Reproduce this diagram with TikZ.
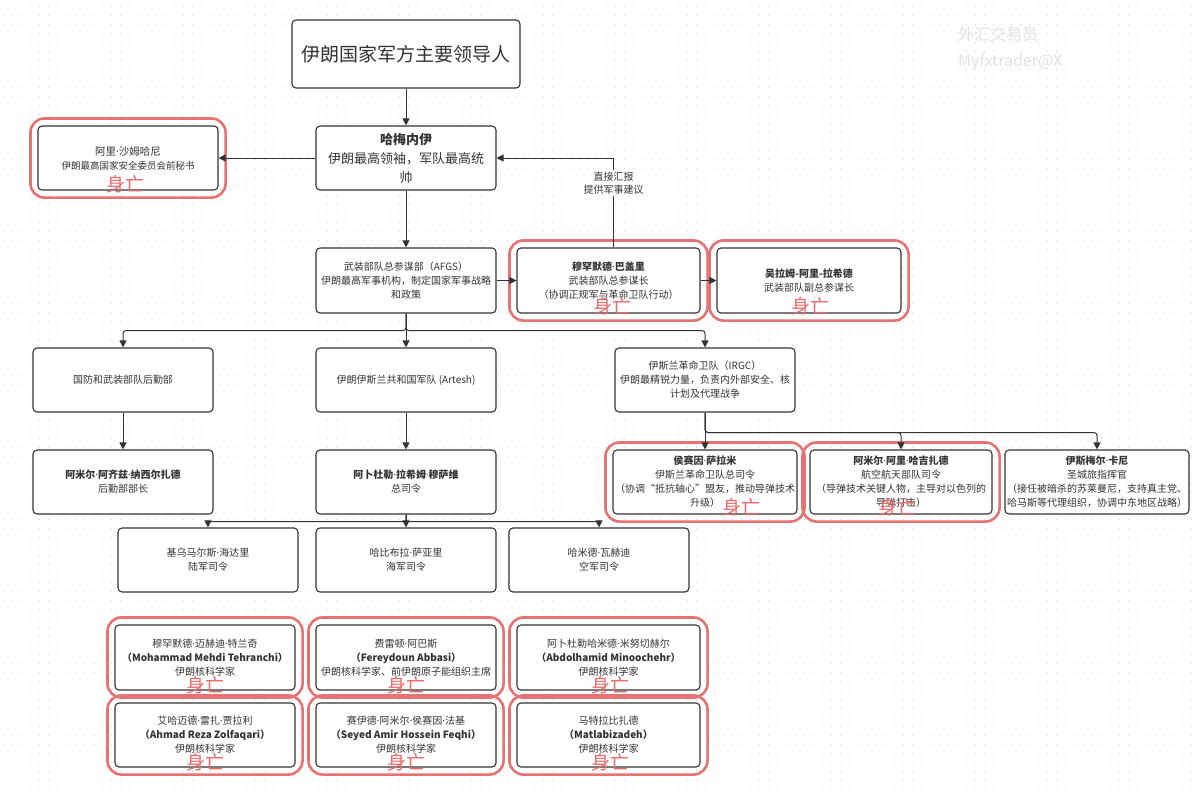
\documentclass[tikz,border=0pt]{standalone}
\usepackage{fontspec}
\setmainfont{Noto Sans CJK SC}
\newfontfamily\latinf{Noto Sans}
\newcommand\mdot{{\latinf ·}}
\usetikzlibrary{arrows.meta,fit}
\definecolor{ln}{HTML}{333333}
\definecolor{redline}{HTML}{E57373}
\definecolor{redtxt}{HTML}{E86A6A}
\definecolor{wm}{HTML}{E2E2E2}
\definecolor{dotc}{HTML}{D4D4D4}
\begin{document}
\begin{tikzpicture}[x=1pt,y=-1pt,
  box/.style={draw=ln, line width=1.1pt, rounded corners=4pt, fill=white, align=center, text=ln, inner sep=2pt, minimum width=180pt, minimum height=64pt, font=\fontsize{10}{14}\selectfont},
  arr/.style={draw=ln, line width=1pt, -{Triangle[length=7pt,width=7pt]}},
  dead/.style={draw=redline, line width=2.6pt, rounded corners=14pt, inner sep=7pt},
  rip/.style={text=redtxt, font=\fontsize{19}{19}\selectfont, inner sep=0pt},
  lbl/.style={fill=white, text=ln, align=center, inner sep=1.5pt, font=\fontsize{10}{13}\selectfont},
  wmk/.style={text=wm, anchor=west, inner sep=0pt, font=\fontsize{16}{16}\selectfont}]
\useasboundingbox (0,0) rectangle (1200,795);
\fill[white] (0,0) rectangle (1200,795);
\foreach \yy in {6,15,...,795}
  \draw[dotc, line width=1pt, dash pattern=on 1pt off 8pt] (3,\yy) -- (1200,\yy);

\node[wmk] (wm1) at (958,34) {外汇交易员};
\node[wmk] (wm2) at (958,62) {Myfxtrader@X};

% nodes
\node[box, minimum width=228pt, minimum height=68pt, font=\fontsize{19}{22}\selectfont] (title) at (406,54) {伊朗国家军方主要领导人};
\node[box, font=\fontsize{13}{19}\selectfont] (kha) at (406,158) {\textbf{哈梅内伊}\\伊朗最高领袖，军队最高统\\帅};
\node[box, font=\fontsize{9.5}{14}\selectfont] (sham) at (128,158) {\fontsize{10.5}{14}\selectfont 阿里\mdot 沙姆哈尼\\伊朗最高国家安全委员会前秘书};
\node[box, minimum height=65pt] (afgs) at (406,280.5) {武装部队总参谋部（AFGS）\\伊朗最高军事机构，制定国家军事战略\\和政策};
\node[box, minimum width=183pt, minimum height=65pt] (bag) at (608.5,280.5) {\textbf{穆罕默德\mdot 巴盖里}\\武装部队总参谋长\\（协调正规军与革命卫队行动）};
\node[box, minimum width=184pt, minimum height=65pt] (ras) at (809,280.5) {\textbf{吴拉姆-阿里-拉希德}\\武装部队副总参谋长};

\node[box] (log) at (123,380) {国防和武装部队后勤部};
\node[box] (art) at (406,380) {伊朗伊斯兰共和国军队 (Artesh)};
\node[box] (irgc) at (705,380) {伊斯兰革命卫队（IRGC）\\伊朗最精锐力量，负责内外部安全、核\\计划及代理战争};

\node[box] (nas) at (123,482) {\textbf{阿米尔\mdot 阿齐兹\mdot 纳西尔扎德}\\后勤部部长};
\node[box] (mou) at (406,482) {\textbf{阿卜杜勒\mdot 拉希姆\mdot 穆萨维}\\总司令};
\node[box, minimum width=182pt] (sal) at (705,482) {\textbf{侯赛因\mdot 萨拉米}\\伊斯兰革命卫队总司令\\（协调“抵抗轴心”盟友，推动导弹技术\\升级）};
\node[box, minimum width=182pt] (haj) at (901,482) {\textbf{阿米尔\mdot 阿里\mdot 哈吉扎德}\\航空航天部队司令\\（导弹技术关键人物，主导对以色列的\\导弹打击）};
\node[box] (qaa) at (1097,482) {\textbf{伊斯梅尔\mdot 卡尼}\\圣城旅指挥官\\（接任被暗杀的苏莱曼尼，支持真主党、\\哈马斯等代理组织，协调中东地区战略）};

\node[box] (hey) at (208,560) {基乌马尔斯\mdot 海达里\\陆军司令};
\node[box] (say) at (406,560) {哈比布拉\mdot 萨亚里\\海军司令};
\node[box] (vah) at (599,560) {哈米德\mdot 瓦赫迪\\空军司令};

\node[box, minimum height=65pt] (s1) at (205,657.5) {穆罕默德\mdot 迈赫迪\mdot 特兰奇\\\textbf{（Mohammad Mehdi Tehranchi）}\\伊朗核科学家};
\node[box, minimum height=65pt] (s2) at (406,657.5) {费雷顿\mdot 阿巴斯\\\textbf{（Fereydoun Abbasi）}\\伊朗核科学家、前伊朗原子能组织主席};
\node[box, minimum width=183pt, minimum height=65pt] (s3) at (608.5,657.5) {阿卜杜勒哈米德\mdot 米努切赫尔\\\textbf{（Abdolhamid Minoochehr）}\\伊朗核科学家};
\node[box] (s4) at (205,735) {艾哈迈德\mdot 雷扎\mdot 贾拉利\\\textbf{（Ahmad Reza Zolfaqari）}\\伊朗核科学家};
\node[box] (s5) at (406,735) {赛伊德\mdot 阿米尔\mdot 侯赛因\mdot 法基\\\textbf{（Seyed Amir Hossein Feqhi）}\\伊朗核科学家};
\node[box, minimum width=183pt] (s6) at (608.5,735) {马特拉比扎德\\\textbf{（Matlabizadeh）}\\伊朗核科学家};

% red outlines
\foreach \n in {sham,bag,ras,sal,haj,s1,s2,s3,s4,s5,s6}
  \node[dead, fit=(\n)] (\n R) {};

% deaths
\node[rip] (d1) at (125,184) {身亡};
\node[rip] (d2) at (612,306) {身亡};
\node[rip] (d3) at (810,306) {身亡};
\node[rip] (d4) at (741,507) {身亡};
\node[rip] (d5) at (897,507) {身亡};
\node[rip] (d6) at (205,685) {身亡};
\node[rip] (d7) at (406,685) {身亡};
\node[rip] (d8) at (610,685) {身亡};
\node[rip] (d9) at (205,762) {身亡};
\node[rip] (d10) at (406,762) {身亡};
\node[rip] (d11) at (610,762) {身亡};

% connectors
\draw[arr] (title) -- (kha);
\draw[arr] (kha.west) -- (sham.east);
\draw[arr] ([xshift=5pt]bag.north) |- node[lbl, pos=0.36] {直接汇报\\提供军事建议} (kha.east);
\draw[arr] (kha) -- (afgs);
\draw[arr] (afgs.east) -- (bag.west);
\draw[arr] (bag.east) -- (ras.west);

\draw[arr, rounded corners=3pt] (afgs.south) -- ++(0,17) -| (log.north);
\draw[arr] (afgs.south) -- (art.north);
\draw[arr, rounded corners=3pt] (afgs.south) -- ++(0,17) -| (irgc.north);

\draw[arr] (log) -- (nas);
\draw[arr] (art) -- (mou);

\draw[arr] (irgc.south) -- (sal.north);
\draw[arr, rounded corners=3pt] (irgc.south) -- ++(0,20) -| (haj.north);
\draw[arr, rounded corners=3pt] (irgc.south) -- ++(0,20) -| (qaa.north);

\draw[arr, rounded corners=2pt] (mou.south) -- ++(0,7) -| (hey.north);
\draw[arr] (mou.south) -- (say.north);
\draw[arr, rounded corners=2pt] (mou.south) -- ++(0,7) -| (vah.north);
\end{tikzpicture}
\end{document}
